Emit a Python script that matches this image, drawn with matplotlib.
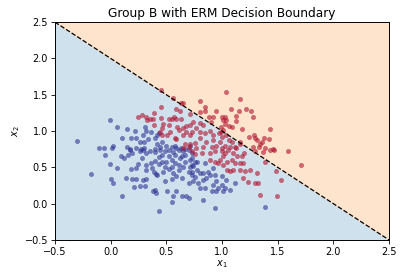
import numpy as np
import matplotlib
matplotlib.use("Agg")
import matplotlib.pyplot as plt

# Group B samples, class 0 (blue)
blue_x = [-0.006, 0.057, 0.15, 0.22, 0.31, 0.32, 0.29, 0.10, 0.18, 0.23, 0.36, 0.40, 0.42, 0.43, 0.34,
          -0.30, 0.42, 0.46, 0.26, 0.30, 0.02, 0.015, -0.105, -0.06, 0.15, 0.17, 0.23, 0.27, 0.30, 0.40,
          0.44, 0.50, 0.55, 0.58, 0.59, 0.63, 0.67, 0.71,
          -0.05, 0.09, 0.12, 0.16, 0.19, 0.17, 0.26, 0.29, 0.32, 0.35, 0.40, 0.44, 0.49, 0.52, 0.56, 0.61,
          0.65, 0.70, -0.006, 0.054, -0.18,
          0.18, 0.23, 0.25, 0.28, 0.32, 0.36, 0.40, 0.43, 0.46, 0.50, 0.55, 0.58, 0.62, 0.67, 0.71, 0.73,
          0.32, 0.37, 0.39, 0.42, 0.47, 0.52, 0.56, 0.61, 0.65, 0.70,
          0.003, 0.02, 0.135, 0.195, 0.23, 0.29, 0.32, 0.31, 0.26, 0.21, 0.41, 0.49, 0.55, 0.59, 0.64, 0.70, 0.73,
          0.40, 0.38, 0.41, 0.51, 0.59, 0.56, 0.64, 0.68, 0.70, 0.55, 0.10, 0.43,
          0.46, 0.52, 0.58, 0.64, 0.49, 0.61, 0.67, 0.73, 0.43, 0.55, 0.71,
          0.73, 0.76, 0.74, 0.73, 0.772, 0.80, 0.76, 0.74, 0.787, 0.83, 0.86, 0.83, 0.876, 0.89, 0.916, 0.937,
          0.95, 0.92, 0.967, 0.907, 0.946, 0.997, 1.03, 1.01, 1.07, 1.116, 1.04, 0.997, 0.847, 0.80, 0.83,
          0.937, 1.387, 0.772, 0.847]
blue_y = [1.15, 1.06, 1.03, 1.00, 1.06, 1.00, 0.945, 0.91, 0.91, 0.90, 0.99, 0.91, 0.945, 0.97, 0.885,
          0.86, 0.82, 0.845, 0.845, 0.845, 0.79, 0.76, 0.76, 0.77, 0.78, 0.75, 0.76, 0.75, 0.77, 0.75,
          0.78, 0.80, 0.78, 0.80, 0.76, 0.77, 0.75, 0.80,
          0.67, 0.65, 0.63, 0.67, 0.70, 0.74, 0.72, 0.74, 0.70, 0.73, 0.71, 0.74, 0.72, 0.74, 0.71, 0.74,
          0.73, 0.74, 0.55, 0.49, 0.41,
          0.48, 0.49, 0.545, 0.63, 0.535, 0.56, 0.59, 0.545, 0.58, 0.57, 0.605, 0.56, 0.63, 0.58, 0.605, 0.535,
          0.47, 0.49, 0.44, 0.40, 0.44, 0.48, 0.42, 0.47, 0.50, 0.44,
          0.34, 0.29, 0.36, 0.34, 0.34, 0.32, 0.34, 0.25, 0.24, 0.23, 0.41, 0.31, 0.34, 0.38, 0.355, 0.29, 0.40,
          0.19, 0.17, 0.14, 0.18, 0.18, 0.11, 0.10, 0.10, 0.08, 0.02, 0.11, -0.105,
          0.67, 0.65, 0.67, 0.65, 0.51, 0.535, 0.67, 0.70, 0.64, 0.51, 0.50,
          0.63, 0.58, 0.515, 0.44, 0.47, 0.42, 0.37, 0.31, 0.285, 0.33, 0.355, 0.42, 0.44, 0.40, 0.49, 0.40,
          0.31, 0.26, 0.215, 0.17, 0.18, 0.26, 0.215, 0.17, 0.19, 0.285, 0.33, 0.38, 0.215, 0.215, 0.055,
          -0.06, -0.045, 0.58, 0.56]

# Group B samples, class 1 (red)
red_x = [0.455, 0.557, 0.63, 0.65, 0.59, 0.625, 0.71, 0.45, 0.39, 0.28, 0.25, 0.32, 0.33, 0.35, 0.38,
         0.45, 0.39, 0.47, 0.52, 0.55, 0.57, 0.59, 0.63, 0.52, 0.46, 0.60, 0.61, 0.65, 0.68, 0.71,
         0.53, 0.51, 0.44, 0.46, 0.58, 0.59, 0.65, 0.68, 0.71, 0.67, 0.71, 0.70, 0.65,
         1.04, 1.16, 0.805, 0.85, 0.85, 0.95, 0.80, 1.08, 1.15, 1.22, 1.26, 1.28, 1.13, 1.13, 0.88, 0.92,
         1.00, 1.03, 1.01, 1.04, 1.03, 0.90, 1.06, 1.09, 0.99, 1.01, 0.99, 1.18, 1.43, 1.24, 1.29, 1.30,
         1.31, 1.38, 1.42, 1.36, 1.34, 1.33, 1.28, 1.39, 1.46, 1.59, 1.16, 1.16,
         0.74, 0.80, 0.83, 0.77, 0.73, 0.80, 0.85, 0.89, 0.92, 0.97, 1.00, 1.04, 1.06, 1.09, 0.98, 0.92,
         0.86, 0.80, 0.76, 0.83, 0.91, 0.95, 1.03, 1.07, 1.12, 1.13, 0.77, 1.00,
         0.757, 0.727, 0.817, 0.892, 0.937, 0.997, 1.027, 1.057, 1.10, 1.132, 1.177, 1.197, 0.892, 0.937,
         0.982, 1.012, 1.042, 1.087, 1.117, 1.162, 1.192, 0.967, 1.012, 1.042, 1.072, 1.102, 1.162, 1.207,
         1.252, 1.312, 1.192, 1.237, 1.297, 1.327, 1.342, 1.492, 1.53, 1.485, 1.387, 1.297, 1.367, 1.427,
         1.469, 1.71]
red_y = [1.568, 1.45, 1.38, 1.38, 1.30, 1.275, 1.24, 1.33, 1.25, 1.22, 1.19, 1.19, 1.15, 1.16, 1.17,
         1.18, 1.09, 1.10, 1.17, 1.17, 1.20, 1.16, 1.16, 1.09, 1.04, 1.06, 1.02, 1.04, 1.07, 1.08,
         0.98, 0.95, 0.98, 0.95, 0.91, 0.885, 0.95, 0.98, 0.95, 0.82, 0.82, 0.78, 0.76,
         1.54, 1.44, 1.42, 1.33, 1.27, 1.28, 1.26, 1.30, 1.28, 1.31, 1.27, 1.19, 1.21, 1.14, 1.19, 1.19,
         1.20, 1.19, 1.15, 1.15, 1.10, 1.13, 1.07, 1.06, 1.06, 1.01, 0.98, 1.03, 1.03, 0.92, 0.94, 0.90,
         0.88, 0.91, 0.89, 0.85, 0.82, 0.78, 0.78, 0.77, 0.75, 0.73, 0.845, 0.82,
         1.13, 1.11, 1.08, 1.04, 0.99, 0.99, 0.97, 1.00, 0.945, 0.97, 0.92, 0.945, 0.875, 0.85, 0.85, 0.875,
         0.85, 0.90, 0.83, 0.78, 0.78, 0.79, 0.80, 0.78, 0.78, 0.76, 0.76, 0.76,
         0.68, 0.73, 0.695, 0.695, 0.72, 0.73, 0.695, 0.74, 0.695, 0.66, 0.66, 0.695, 0.60, 0.58,
         0.60, 0.65, 0.58, 0.60, 0.56, 0.56, 0.56, 0.56, 0.535, 0.465, 0.445, 0.465, 0.465, 0.445,
         0.465, 0.42, 0.35, 0.30, 0.29, 0.29, 0.12, 0.11, 0.32, 0.455, 0.58, 0.72, 0.71, 0.74,
         0.74, 0.535]

# ERM decision boundary: w1*x1 + w2*x2 + b = 0
w1, w2, b = 1.0, 1.0, -2.0
xlim = (-0.5, 2.5)
ylim = (-0.5, 2.5)
ticks = [-0.5, 0.0, 0.5, 1.0, 1.5, 2.0, 2.5]

plt.rcParams['font.family'] = ['DejaVu Sans']
plt.rcParams['font.size'] = 7

fig = plt.figure(figsize=(4.04, 2.80), dpi=100)
ax = fig.add_axes([0.136, 0.143, 0.827, 0.778])

xs = np.array(xlim)
line_y = -(w1 * xs + b) / w2
ax.fill_between(xs, ylim[0], line_y, color='#d0e1ee', zorder=0)
ax.fill_between(xs, line_y, ylim[1], color='#fee3cd', zorder=0)

ax.scatter(blue_x, blue_y, s=10, color='#313695', alpha=0.6, linewidths=0.3, zorder=2)
ax.scatter(red_x, red_y, s=10, color='#b2122e', alpha=0.6, linewidths=0.3, zorder=2)
ax.plot(xs, line_y, 'k--', linewidth=0.9, zorder=3)

ax.set_xlim(*xlim)
ax.set_ylim(*ylim)
ax.set_xticks(ticks)
ax.set_yticks(ticks)
ax.tick_params(length=3, width=0.6, pad=2)
for s in ax.spines.values():
    s.set_linewidth(0.7)
ax.set_xlabel('$x_1$', labelpad=1)
ax.set_ylabel('$x_2$', labelpad=2)
ax.set_title('Group B with ERM Decision Boundary', fontsize=8.7, pad=4)

fig.savefig('out.png', dpi=100)
